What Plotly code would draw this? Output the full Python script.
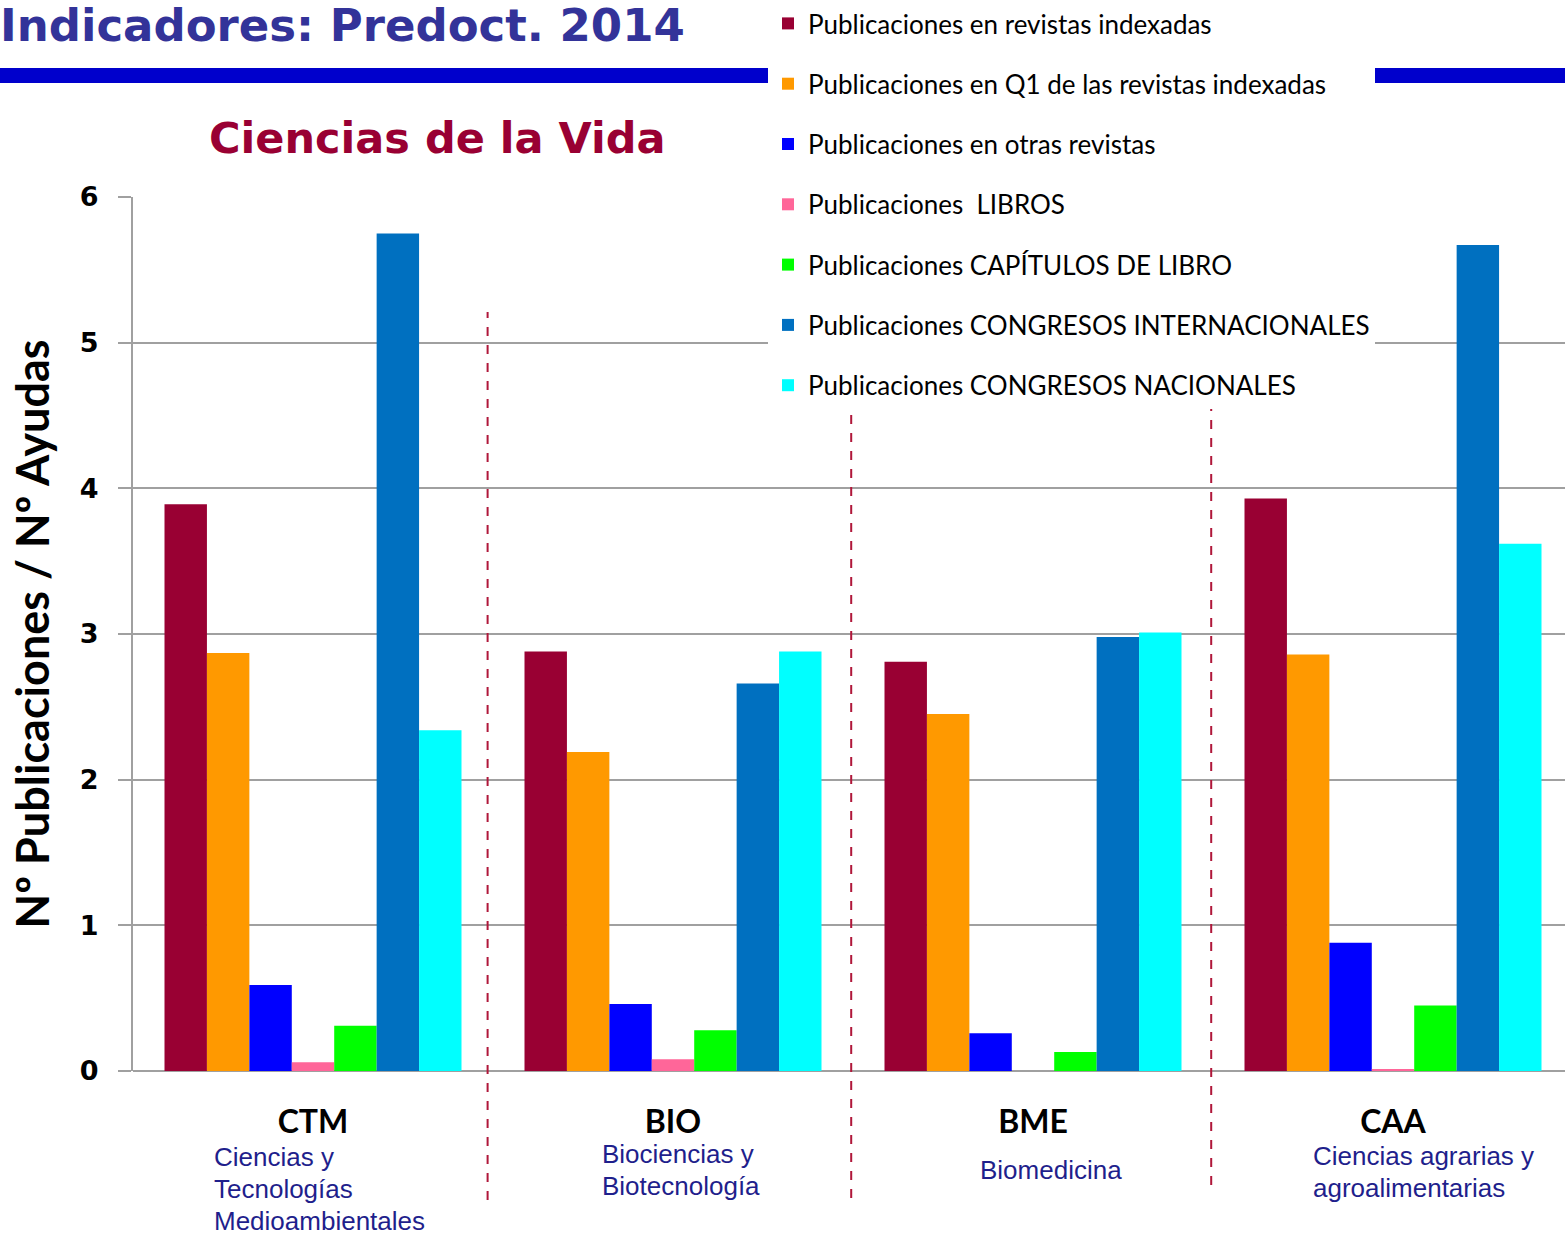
import plotly.graph_objects as go

# Data
categories = ["CTM", "BIO", "BME", "CAA"]
category_desc = [
    ["Ciencias y", "Tecnologías", "Medioambientales"],
    ["Biociencias y", "Biotecnología"],
    ["Biomedicina"],
    ["Ciencias agrarias y", "agroalimentarias"],
]
series_names = [
    "Publicaciones en revistas indexadas",
    "Publicaciones en Q1 de las revistas indexadas",
    "Publicaciones en otras revistas",
    "Publicaciones  LIBROS",
    "Publicaciones CAPÍTULOS DE LIBRO",
    "Publicaciones CONGRESOS INTERNACIONALES",
    "Publicaciones CONGRESOS NACIONALES",
]
revistas_indexadas = [3.89, 2.88, 2.81, 3.93]
q1_indexadas = [2.87, 2.19, 2.45, 2.86]
otras_revistas = [0.59, 0.46, 0.26, 0.88]
libros = [0.06, 0.08, 0.0, 0.01]
capitulos = [0.31, 0.28, 0.13, 0.45]
congresos_int = [5.75, 2.66, 2.98, 5.67]
congresos_nac = [2.34, 2.88, 3.01, 3.62]
series_values = [revistas_indexadas, q1_indexadas, otras_revistas, libros,
                 capitulos, congresos_int, congresos_nac]
series_colors = ["#990033", "#FF9900", "#0000FF", "#FF6699",
                 "#00FF00", "#0070C0", "#00FFFF"]
y_ticks = [0, 1, 2, 3, 4, 5, 6]

W, H = 1565, 1233
ML, MR, MT, MB = 133, 0, 197, 162
PW, PH = W - ML - MR, H - MT - MB


def py(y):
    # pixel row -> paper y
    return (H - MB - y) / PH


def px(x):
    return (x - ML) / PW


fig = go.Figure()
for i, (name, vals, col) in enumerate(zip(series_names, series_values, series_colors)):
    fig.add_trace(go.Bar(
        x=categories, y=vals, name=name,
        marker=dict(color=col, line=dict(width=0)),
        legendgroup=f"g{i}",
        hovertemplate="%{x}: %{y}<extra>" + name + "</extra>",
    ))

shapes = [
    # blue band under the title
    dict(type="rect", xref="paper", yref="paper", x0=px(0), x1=px(W),
         y0=py(83), y1=py(68), fillcolor="#0000CC", line=dict(width=0), layer="above"),
]
for xd, ytop, ybot in [(0.485, 312, 1200), (1.495, 312, 1198), (2.495, 312, 1185)]:
    shapes.append(dict(type="line", xref="x", yref="paper", x0=xd, x1=xd,
                       y0=py(ybot), y1=py(ytop),
                       line=dict(color="#B0173A", width=2, dash="dash")))

annotations = [
    dict(text="<b>Ciencias de la Vida</b>", xref="paper", yref="paper",
         x=px(437), y=py(138), xanchor="center", yanchor="middle", showarrow=False,
         font=dict(family="DejaVu Sans", size=43, color="#990033")),
]
desc_shift = [-101, -73, -55, -82]
desc_first = [1157, 1154, 1170, 1156]
for cat, lines, sh, y0 in zip(categories, category_desc, desc_shift, desc_first):
    for k, line in enumerate(lines):
        annotations.append(dict(
            text=line, xref="x", yref="paper", x=cat, y=py(y0 + 32 * k), xshift=sh,
            xanchor="left", yanchor="middle", showarrow=False,
            font=dict(family="Liberation Sans, Arial", size=26, color="#1F1F8C"),
        ))

fig.update_layout(
    width=W, height=H,
    margin=dict(l=ML, r=MR, t=MT, b=MB),
    paper_bgcolor="white", plot_bgcolor="white",
    barmode="group", bargap=0.175, bargroupgap=0,
    title=dict(text="<b>Indicadores: Predoct. 2014</b>", xref="container", yref="container",
               x=0, y=1 - 25 / H, xanchor="left", yanchor="middle",
               font=dict(family="DejaVu Sans", size=45, color="#333399")),
    xaxis=dict(
        range=[-0.5, -0.5 + PW / 360], tickvals=categories,
        ticktext=[f"<b>{c}</b>" for c in categories],
        tickfont=dict(family="Lato", size=32, color="black"),
        ticklabelstandoff=29, showgrid=False, zeroline=False,
        showline=False, ticks="",
    ),
    yaxis=dict(
        range=[0, 6], tickvals=y_ticks, ticktext=[f"<b>{t}</b>" for t in y_ticks],
        tickfont=dict(family="DejaVu Sans", size=27, color="black"),
        ticks="outside", ticklen=13, tickcolor="#A0A0A0", tickwidth=2,
        ticklabelstandoff=14,
        showgrid=True, gridcolor="#A0A0A0", gridwidth=2,
        showline=True, linecolor="#A0A0A0", linewidth=2,
        zeroline=True, zerolinecolor="#A0A0A0", zerolinewidth=2,
        title=dict(text="<b>Nº Publicaciones / Nº Ayudas</b>", standoff=16,
                   font=dict(family="Lato", size=45, color="black")),
    ),
    legend=dict(
        x=px(768), y=py(0), xanchor="left", yanchor="top",
        bgcolor="white", borderwidth=0, tracegroupgap=23.5,
        font=dict(family="Lato", size=26, color="black"),
        itemclick=False, itemdoubleclick=False,
    ),
    shapes=shapes,
    annotations=annotations,
    showlegend=True,
)

fig.write_html("out.html", config={"displayModeBar": False},
               post_script="document.body.style.margin='0px';")
